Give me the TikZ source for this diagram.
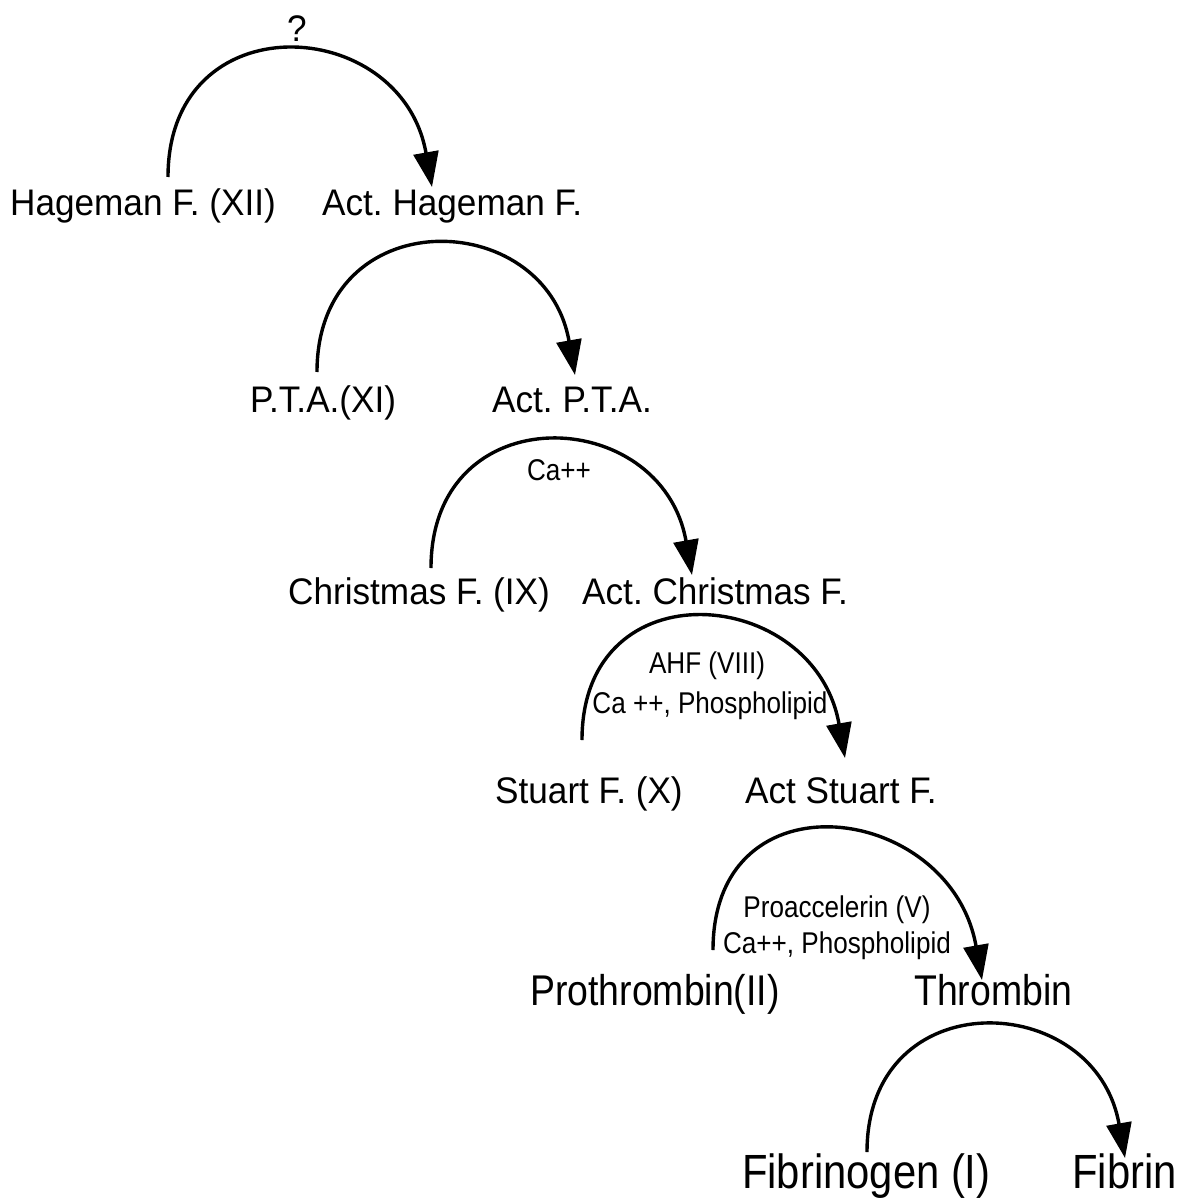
\documentclass[tikz,border=0pt]{standalone}
\usepackage{fontspec}
\setmainfont{Liberation Sans}[FakeStretch=0.95]
\newfontfamily\narrowsans{Liberation Sans}[FakeStretch=0.87]
\usepackage{tikz}
\usetikzlibrary{arrows.meta}
\frenchspacing

\begin{document}
\begin{tikzpicture}[
    x=1pt, y=-1pt,
    factor/.style={anchor=base west, inner sep=0pt, font=\fontsize{37}{40}\selectfont},
    bigfactor/.style={factor, font=\narrowsans\fontsize{43}{46}\selectfont},
    hugefactor/.style={factor, font=\narrowsans\fontsize{48}{52}\selectfont},
    cofactor/.style={anchor=base, inner sep=0pt, font=\narrowsans\fontsize{30}{32}\selectfont},
    arr/.style={-{Triangle[length=35pt,width=25pt]}, line width=3.4pt,
                out=90, in=100, looseness=1.7}
  ]
  \useasboundingbox (0,0) rectangle (1182,1198);

  % Hageman
  \node[factor] (hag) at (10,215) {Hageman F. (XII)};
  \node[factor] (acthag) at (322,215) {Act. Hageman F.};
  \node[cofactor, font=\fontsize{37}{40}\selectfont] (q) at (297,42) {?};

  % P.T.A.
  \node[factor] (pta) at (250,412) {P.T.A.(XI)};
  \node[factor] (actpta) at (492,412) {Act. P.T.A.};

  % Christmas
  \node[factor] (xmas) at (288,604) {Christmas F. (IX)};
  \node[factor] (actxmas) at (582,604) {Act. Christmas F.};
  \node[cofactor] (ca1) at (559,480) {Ca++};

  % Stuart
  \node[factor] (stuart) at (495,803) {Stuart F. (X)};
  \node[factor] (actstuart) at (745,803) {Act Stuart F.};
  \node[cofactor] (ahf) at (707,673) {AHF (VIII)};
  \node[cofactor] (ca2) at (710,713) {Ca ++, Phospholipid};

  % Prothrombin
  \node[bigfactor] (prothr) at (530,1005) {Prothrombin(II)};
  \node[bigfactor] (thromb) at (914,1005) {Thrombin};
  \node[cofactor] (proacc) at (837,917) {Proaccelerin (V)};
  \node[cofactor] (ca3) at (837,953) {Ca++, Phospholipid};

  % Fibrinogen
  \node[hugefactor] (fibgen) at (742,1188) {Fibrinogen (I)};
  \node[hugefactor] (fibrin) at (1072,1188) {Fibrin};

  % Arcs
  \draw[arr] ([shift={(158,-38)}]hag.base west) to ([shift={(110,-28)}]acthag.base west);
  \draw[arr] ([shift={(67,-40)}]pta.base west) to ([shift={(83,-37)}]actpta.base west);
  \draw[arr] ([shift={(143,-36)}]xmas.base west) to ([shift={(110,-29)}]actxmas.base west);
  \draw[arr] ([shift={(87,-63)}]stuart.base west) to ([shift={(100,-45)}]actstuart.base west);
  \draw[arr] ([shift={(183,-55)}]prothr.base west) to ([shift={(68,-25)}]thromb.base west);
  \draw[arr] ([shift={(125,-36)}]fibgen.base west) to ([shift={(53,-30)}]fibrin.base west);
\end{tikzpicture}
\end{document}
